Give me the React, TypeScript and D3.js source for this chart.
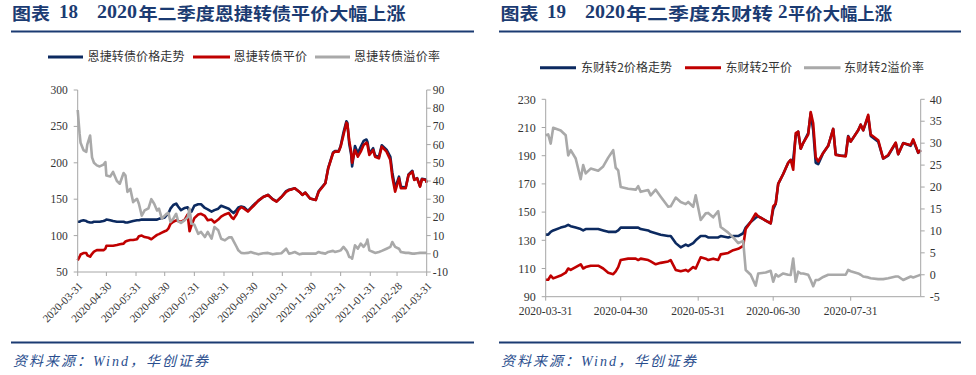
import React from "react";
import * as d3 from "d3";

// ---------- 恩捷转债 (Figure 18) ----------
const ejDates = [
  "2020-03-31","2020-04-02","2020-04-03","2020-04-06","2020-04-09","2020-04-10","2020-04-13","2020-04-15","2020-04-17","2020-04-20",
  "2020-04-23","2020-04-27","2020-04-29","2020-04-30","2020-05-04","2020-05-07","2020-05-11","2020-05-14","2020-05-18","2020-05-20",
  "2020-05-22","2020-05-25","2020-05-28","2020-06-01","2020-06-03","2020-06-06","2020-06-09","2020-06-13","2020-06-16","2020-06-19",
  "2020-06-22","2020-06-24","2020-06-27","2020-06-30","2020-07-02","2020-07-04","2020-07-06","2020-07-09","2020-07-12","2020-07-14",
  "2020-07-17","2020-07-21","2020-07-24","2020-07-26","2020-07-28","2020-07-31","2020-08-04","2020-08-07","2020-08-11","2020-08-14",
  "2020-08-18","2020-08-21","2020-08-25","2020-08-28","2020-09-01","2020-09-05","2020-09-08","2020-09-10","2020-09-13","2020-09-15",
  "2020-09-18","2020-09-21","2020-09-25","2020-09-28","2020-10-01","2020-10-06","2020-10-11","2020-10-16","2020-10-21","2020-10-25",
  "2020-10-30","2020-11-04","2020-11-07","2020-11-10","2020-11-13","2020-11-18","2020-11-21","2020-11-24","2020-11-29","2020-12-05",
  "2020-12-08","2020-12-11","2020-12-15","2020-12-18","2020-12-23","2020-12-25","2020-12-29","2020-12-31","2021-01-03","2021-01-06",
  "2021-01-07","2021-01-09","2021-01-11","2021-01-12","2021-01-15","2021-01-18","2021-01-21","2021-01-24","2021-01-27","2021-01-28",
  "2021-01-30","2021-02-03","2021-02-05","2021-02-09","2021-02-12","2021-02-17","2021-02-21","2021-02-23","2021-02-26","2021-03-02",
  "2021-03-04","2021-03-09","2021-03-12","2021-03-16","2021-03-18","2021-03-21","2021-03-24","2021-03-26","2021-03-30","2021-03-31",
];
const ejPrice = [
  119,119,120,121,120,119,118,118,119,119,
  119,120,121,122,121,120,119,119,119,118,
  118,119,120,121,121,122,122,122,122,122,
  122,123,124,125,128,131,137,142,144,140,
  135,138,139,133,133,141,143,143,138,136,
  133,135,137,141,139,137,133,131,135,138.5,
  140,139,134,138,142,148,153,156,150,147,
  153,161,163,164,165,160,156,159,151,149,
  161,166,172,193,214,216,216,223,242,257,
  255,226,211,195,223,213,222,230,232,229,
  213,220,210,208,224,218,208,187,165,181,
  167,166,184,189,177,179,168,178,177,173,
];
const ejParity = [
  66,71,74,76,76,73,71,75,78,80,
  80,80,82,86,86,86,87,88,89,92,
  93,94,94,95,99,100,98,97,95,98,
  101,102,104,106,107,110,116,119,121,120,
  119,122,129,106,114,124,129,130,127,121,
  122,118,122,126,129,131,125,123,129,135,
  139,137,133,137,141,148,153,155.8,149.8,146.6,
  153,160,162.5,163.5,165,160,155.8,159,151,148.9,
  160.3,165,171.8,192.4,213,215.3,215.3,222.2,238.2,255.1,
  253.3,230,215.3,200.2,217.6,208.4,215.3,224.4,227.7,225,
  210.7,217.6,208.4,206.1,222.2,215.3,203.8,181,160.3,178.7,
  165,165,183.2,187.8,176.4,178.7,167.2,177.3,176.4,172.7,
];
const ejPremium = [
  79,66,61,57,56,60,65,53,50,48.6,
  48,49,50.4,43,42.5,45,40,38.5,44.4,43,
  34,35.7,28.4,30.2,27.5,21,23.8,25,30,27.5,
  23.8,24.8,19.3,21,22,22.4,17.5,19.3,22,18,
  17,18.5,20,24.8,16.6,16,11,12,9.2,12,
  8.3,14.7,12.9,8.3,7.4,9,9,7,4,1.9,
  0.5,0.3,0.5,1,0.5,-0.3,0.3,0.5,-0.3,0.1,
  0.3,2.8,0.1,0.5,1,-0.3,0.1,0.1,0.1,0.1,
  1,0.5,0.1,1,1.6,1,1.5,1.9,3.8,1.9,
  1,-1.8,-2,-2.7,4.7,2.8,5.6,3.8,6,7.8,
  1.9,1,0.5,1,1.6,2.8,3.8,6.5,3.8,2.8,
  1,0.5,0.5,0.1,0.1,0.3,0.5,0.5,0.5,0.5,
];
const ejLeftTicks = [50, 100, 150, 200, 250, 300];
const ejRightTicks = [-10, 0, 10, 20, 30, 40, 50, 60, 70, 80, 90];
const ejXTicks = [
  "2020-03-31","2020-04-30","2020-05-31","2020-06-30","2020-07-31","2020-08-31","2020-09-30",
  "2020-10-31","2020-11-30","2020-12-31","2021-01-31","2021-02-28","2021-03-31",
];

// ---------- 东财转2 (Figure 19) ----------
const dcDates = [
  "2020-03-31","2020-04-01","2020-04-02","2020-04-03","2020-04-06","2020-04-08","2020-04-09","2020-04-10","2020-04-12","2020-04-14",
  "2020-04-15","2020-04-16","2020-04-18","2020-04-21","2020-04-23","2020-04-25","2020-04-27","2020-04-28","2020-04-29","2020-04-30",
  "2020-05-03","2020-05-06","2020-05-07","2020-05-08","2020-05-11","2020-05-12","2020-05-14","2020-05-16","2020-05-19","2020-05-20",
  "2020-05-22","2020-05-24","2020-05-26","2020-05-27","2020-05-29","2020-05-30","2020-06-01","2020-06-03","2020-06-04","2020-06-06",
  "2020-06-08","2020-06-09","2020-06-12","2020-06-14","2020-06-16","2020-06-18","2020-06-19","2020-06-21","2020-06-23","2020-06-24",
  "2020-06-27","2020-06-29","2020-06-30","2020-07-01","2020-07-02","2020-07-04","2020-07-06","2020-07-07","2020-07-08","2020-07-09",
  "2020-07-10","2020-07-11","2020-07-12","2020-07-14","2020-07-15","2020-07-16","2020-07-17","2020-07-18","2020-07-20","2020-07-22",
  "2020-07-24","2020-07-25","2020-07-27","2020-07-29","2020-07-30","2020-07-31","2020-08-03","2020-08-04","2020-08-05","2020-08-07",
  "2020-08-08","2020-08-11","2020-08-13","2020-08-15","2020-08-18","2020-08-19","2020-08-21","2020-08-24","2020-08-25","2020-08-27",
  "2020-08-28",
];
const dcPrice = [
  134,134,136,137,139,140,141,140,139,138,
  137,138,138,138,137,136,136,136,137,139,
  139,139,139,138,137,136,135,134,133,133,
  128,125,127,126,128,130,133,133,132,132,
  132,133,132,133,133,135,139,143,146,147,
  144,142,152,156,170,177,185,187,187,204,
  207,195,199,206,220,208,185,184,192,197,
  209,191,190,190,204,200,208,212,208,218,
  204,200,188,190,199,191,199,197,201,192,
  194,
];
const dcParity = [
  102,102,105,103,105,107,110,109,111,113,
  110,111,112,112,110,107,106,108,111,116,
  117,117,116,117,116,115,113,114,115,116,
  109,108,109,108,111,110,118,117,116,117,
  116,120,121,123,124,126,138,143,149,147,
  144,142,154,156,170,177,185,187,180,206,
  207,195,199,205,221,213,189,186,192,197,
  209,190.5,190,189.5,203.5,200,208,212,208,219,
  205,201,188,190.5,199.3,191,198.8,197.6,201.6,192.2,
  194,
];
const dcPremium = [
  31.8,32,29.9,33.5,32.9,31.8,27.2,28.4,26.5,21.8,
  25,23.1,24.2,23.7,24.7,26.7,28.4,24.4,23.8,20,
  19.6,19.4,20.2,18.9,19.3,18.1,19.4,17.8,15.5,15.6,
  17.6,16.6,16.1,16.6,15.5,18.1,12.5,14,14.1,13.1,
  14.5,10.9,9.6,8.5,7.2,7.7,1.1,0,-2.5,0.3,
  0.5,0.9,-1.6,0.1,-0.4,0.3,0,-0.05,3.7,-1.6,
  0.7,0.3,0.3,0,-1.2,-2.6,-1.2,-1.2,-0.5,0,
  0,0,0,0,1.1,0.8,0.3,0,-0.4,-0.6,
  -0.8,-1,-1,-0.8,-0.4,-0.4,-1.2,-0.4,-0.6,-0.2,
  0,
];
const dcLeftTicks = [90, 110, 130, 150, 170, 190, 210, 230];
const dcRightTicks = [-5, 0, 5, 10, 15, 20, 25, 30, 35, 40];
const dcXTicks = ["2020-03-31","2020-04-30","2020-05-31","2020-06-30","2020-07-31"];

const NAVY = "#0C2A60";
const RED = "#C00000";
const GRAY = "#A9A9A9";
const AXIS = "#A6A6A6";
const TITLE = "#1B3B72";
const SERIF = "'Liberation Serif', 'Times New Roman', serif";
const CJK = "'Noto Sans CJK SC', 'Noto Sans', sans-serif";

const parse = d3.timeParse("%Y-%m-%d");

type ChartProps = {
  dates: string[]; price: number[]; parity: number[]; premium: number[];
  x0: number; x1: number; yTop: number; yBot: number;
  endDate: string;
  leftDomain: [number, number]; rightDomain: [number, number];
  leftTicks: number[]; rightTicks: number[]; xTicks: string[];
  rotated: boolean; rightLabelGap: number; fontSize: number;
};

function Chart(p: ChartProps) {
  const x = d3.scaleTime().domain([parse(p.dates[0])!, parse(p.endDate)!]).range([p.x0, p.x1]);
  const yl = d3.scaleLinear().domain(p.leftDomain).range([p.yBot, p.yTop]);
  const yr = d3.scaleLinear().domain(p.rightDomain).range([p.yBot, p.yTop]);
  const dts = p.dates.map((d) => parse(d)!);
  const lineL = d3.line<number>().x((_, i) => x(dts[i])).y((v) => yl(v));
  const lineR = d3.line<number>().x((_, i) => x(dts[i])).y((v) => yr(v));
  return (
    <g>
      <path d={lineL(p.price) || ""} fill="none" stroke={NAVY} strokeWidth={2.6} strokeLinejoin="round" />
      <path d={lineL(p.parity) || ""} fill="none" stroke={RED} strokeWidth={2.6} strokeLinejoin="round" />
      <path d={lineR(p.premium) || ""} fill="none" stroke={GRAY} strokeWidth={2.6} strokeLinejoin="round" />
      {/* axes */}
      <line x1={p.x0} x2={p.x0} y1={p.yTop} y2={p.yBot} stroke={AXIS} strokeWidth={1} />
      <line x1={p.x1} x2={p.x1} y1={p.yTop} y2={p.yBot} stroke={AXIS} strokeWidth={1} />
      <line x1={p.x0} x2={p.x1} y1={p.yBot} y2={p.yBot} stroke={AXIS} strokeWidth={1} />
      {p.leftTicks.map((t) => (
        <g key={"l" + t}>
          <line x1={p.x0 - 4} x2={p.x0} y1={yl(t)} y2={yl(t)} stroke={AXIS} />
          <text x={p.x0 - 10} y={yl(t)} dy="0.35em" textAnchor="end" fontFamily={SERIF} fontSize={p.fontSize} fill="#333">{t}</text>
        </g>
      ))}
      {p.rightTicks.map((t) => (
        <g key={"r" + t}>
          <line x1={p.x1} x2={p.x1 + 4} y1={yr(t)} y2={yr(t)} stroke={AXIS} />
          <text x={p.x1 + p.rightLabelGap} y={yr(t)} dy="0.35em" textAnchor="start" fontFamily={SERIF} fontSize={p.fontSize} fill="#333">{t}</text>
        </g>
      ))}
      {p.xTicks.map((t) => {
        const xx = x(parse(t)!);
        return (
          <g key={"x" + t}>
            <line x1={xx} x2={xx} y1={p.yBot} y2={p.yBot + 4} stroke={AXIS} />
            {p.rotated ? (
              <text transform={`translate(${xx + 3},${p.yBot + 12}) rotate(-45)`} dy="0.35em" textAnchor="end" fontFamily={SERIF} fontSize={11} fill="#333">{t}</text>
            ) : (
              <text x={xx} y={p.yBot + 18} textAnchor="middle" fontFamily={SERIF} fontSize={11.5} fill="#333">{t}</text>
            )}
          </g>
        );
      })}
    </g>
  );
}

function Legend({ y, items }: { y: number; items: { x0: number; x1: number; tx: number; tw: number; label: string; color: string }[] }) {
  return (
    <g>
      {items.map((it) => (
        <g key={it.label}>
          <line x1={it.x0} x2={it.x1} y1={y} y2={y} stroke={it.color} strokeWidth={3} />
          <text x={it.tx} y={y + 4.2} fontFamily={CJK} fontSize={12} fill="#333" textLength={it.tw} lengthAdjust="spacing">{it.label}</text>
        </g>
      ))}
    </g>
  );
}

function Title({ parts }: { parts: { x: number; t: string; w?: number; latin?: boolean }[] }) {
  return (
    <g>
      {parts.map((p, i) => (
        <text key={i} x={p.x} y={p.latin ? 18 : 20} fontFamily={p.latin ? SERIF : CJK} fontWeight="bold" fontSize={p.latin ? 19 : 17} fill={TITLE}
          textLength={p.w} lengthAdjust={p.w ? "spacingAndGlyphs" : undefined}>{p.t}</text>
      ))}
    </g>
  );
}

function Footer({ x }: { x: number }) {
  return (
    <text x={x} y={366} fontFamily={CJK} fontStyle="italic" fontSize={14} fill="#2A4E8E" textLength={195} lengthAdjust="spacing">
      资料来源：<tspan fontFamily={SERIF}>Wind</tspan>，华创证券
    </text>
  );
}

export default function App() {
  return (
    <svg width={976} height={375} style={{ position: "absolute", left: 0, top: 0, background: "#fff" }}>
      <rect width={976} height={375} fill="#fff" />
      {/* Left panel */}
      <Title parts={[
        { x: 12, t: "图表", w: 38 },
        { x: 59, t: "18", latin: true },
        { x: 97, t: "2020", latin: true, w: 40 },
        { x: 138.5, t: "年二季度恩捷转债平价大幅上涨", w: 267 },
      ]} />
      <line x1={11} x2={474} y1={31.5} y2={31.5} stroke={TITLE} strokeWidth={2} />
      <Legend y={57} items={[
        { x0: 48, x1: 83, tx: 87.5, tw: 97, label: "恩捷转债价格走势", color: NAVY },
        { x0: 193, x1: 230, tx: 233.5, tw: 73.5, label: "恩捷转债平价", color: RED },
        { x0: 315, x1: 350, tx: 354, tw: 86, label: "恩捷转债溢价率", color: GRAY },
      ]} />
      <Chart dates={ejDates} price={ejPrice} parity={ejParity} premium={ejPremium}
        x0={77.7} x1={426.7} yTop={90} yBot={272} endDate="2021-03-31"
        leftDomain={[50, 300]} rightDomain={[-10, 90]}
        leftTicks={ejLeftTicks} rightTicks={ejRightTicks} xTicks={ejXTicks}
        rotated={true} rightLabelGap={6} fontSize={11.5} />
      <line x1={11} x2={474} y1={342.5} y2={342.5} stroke={TITLE} strokeWidth={2} />
      <Footer x={13} />

      {/* Right panel */}
      <Title parts={[
        { x: 500.5, t: "图表", w: 38 },
        { x: 547, t: "19", latin: true },
        { x: 585, t: "2020", latin: true, w: 40 },
        { x: 626, t: "年二季度东财转", w: 147 },
        { x: 778, t: "2", latin: true },
        { x: 788, t: "平价大幅上涨", w: 104 },
      ]} />
      <line x1={499} x2={961} y1={31.5} y2={31.5} stroke={TITLE} strokeWidth={2} />
      <Legend y={67.7} items={[
        { x0: 540, x1: 576, tx: 581, tw: 91, label: "东财转2价格走势", color: NAVY },
        { x0: 685, x1: 721, tx: 725.5, tw: 66.5, label: "东财转2平价", color: RED },
        { x0: 804, x1: 840.5, tx: 844, tw: 80, label: "东财转2溢价率", color: GRAY },
      ]} />
      <Chart dates={dcDates} price={dcPrice} parity={dcParity} premium={dcPremium}
        x0={545.7} x1={920.7} yTop={99.3} yBot={296.7} endDate="2020-08-28"
        leftDomain={[90, 230]} rightDomain={[-5, 40]}
        leftTicks={dcLeftTicks} rightTicks={dcRightTicks} xTicks={dcXTicks}
        rotated={false} rightLabelGap={9} fontSize={12} />
      <line x1={499} x2={961} y1={342.5} y2={342.5} stroke={TITLE} strokeWidth={2} />
      <Footer x={501} />
    </svg>
  );
}
